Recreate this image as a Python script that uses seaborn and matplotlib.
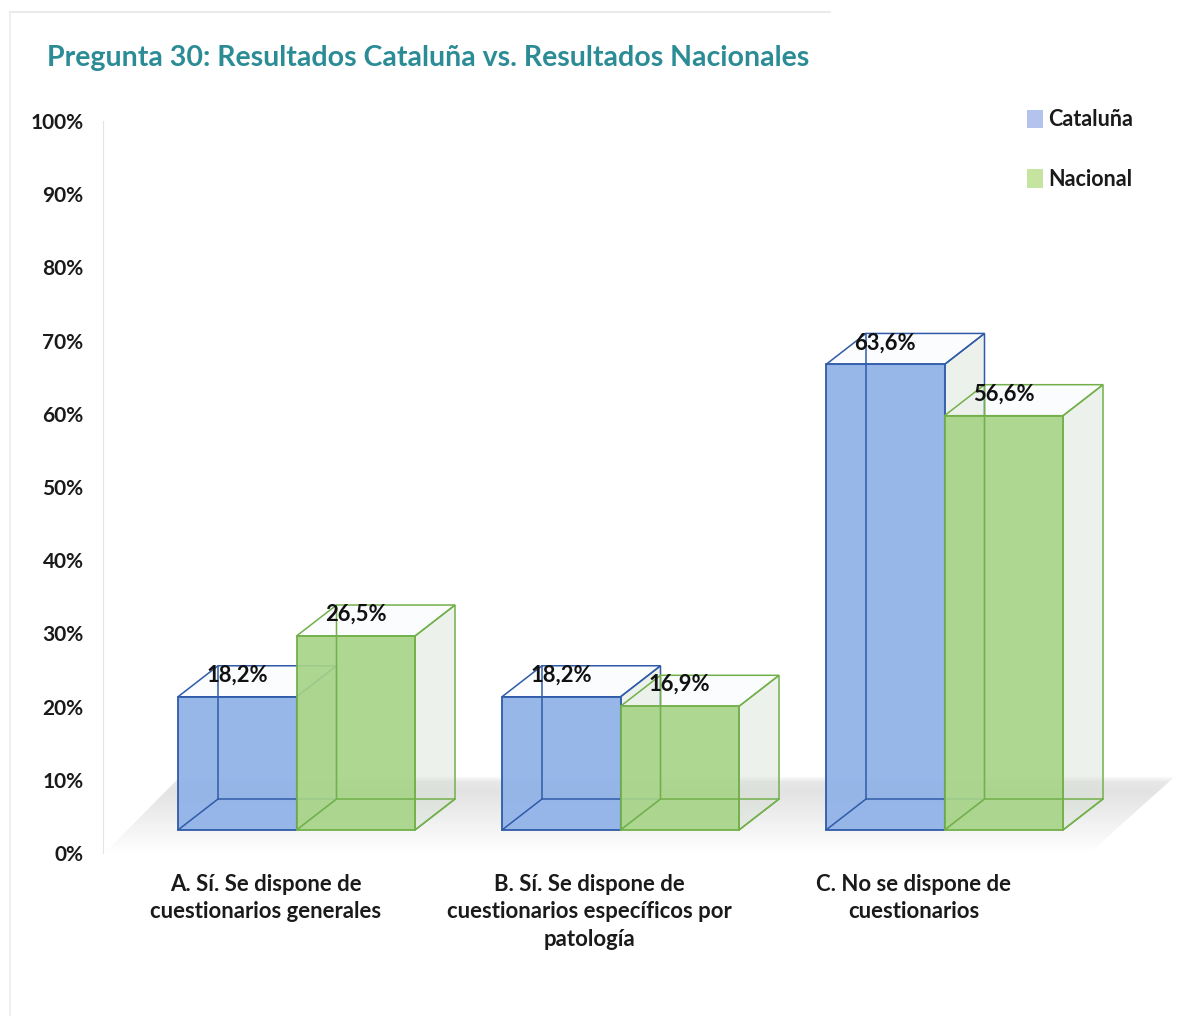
import pandas as pd
import numpy as np
import matplotlib
matplotlib.use("Agg")
import matplotlib.pyplot as plt
import seaborn as sns
from matplotlib.colors import to_rgba, LinearSegmentedColormap
from matplotlib.patches import Polygon

# datos
categorias = ["A. Sí. Se dispone de\ncuestionarios generales",
              "B. Sí. Se dispone de\ncuestionarios específicos por\npatología",
              "C. No se dispone de\ncuestionarios"]
cataluna = [18.2, 18.2, 63.6]
nacional = [26.5, 16.9, 56.6]
ticks = [0, 10, 20, 30, 40, 50, 60, 70, 80, 90, 100]
titulo = "Pregunta 30: Resultados Cataluña vs. Resultados Nacionales"

df = pd.DataFrame({"cat": categorias, "Cataluña": cataluna, "Nacional": nacional})
df = df.melt(id_vars="cat", var_name="serie", value_name="valor")

sns.set_style("white")
plt.rcParams["font.family"] = ["Lato", "DejaVu Sans"]
plt.rcParams["font.weight"] = "bold"

W, H = 1197, 1016
fig = plt.figure(figsize=(W / 100, H / 100), dpi=100)

# el eje va de px 103 a 1180 en x, y de 853 (0%) a 121 (100%) en y
ax = fig.add_axes([103 / W, 1 - 853 / H, (1180 - 103) / W, (853 - 121) / H])
px_cat = 324
px_val = 7.32
suelo = 23 / px_val   # la base de las barras está por encima del 0%
dx = 40 / px_cat      # profundidad 3D
dy = 31 / px_val

colores = {"Cataluña": "#8FB1E8", "Nacional": "#A7D488"}
bordes = {"Cataluña": "#2F5BA8", "Nacional": "#72B04A"}

sns.barplot(data=df, x="cat", y="valor", hue="serie", hue_order=["Cataluña", "Nacional"],
            palette=colores, width=0.7315, gap=0, saturation=1, ax=ax, legend=True)

ax.set_xlim((103 - 296.5) / px_cat, (1180 - 296.5) / px_cat)
ax.set_ylim(-suelo, 100 - suelo)

# suelo gris con degradado, borde de atrás difuminado
cmap = LinearSegmentedColormap.from_list("suelo", ["#ffffff", "#f1f1f1", "#e3e3e3"])
suelo_x = [-0.59, -0.36, 2.71, 2.45]
suelo_y = [-suelo + 0.1, 10.4 - suelo, 10.4 - suelo, -suelo + 0.1]
grad = np.interp(np.linspace(0, 1, 60), [0, 0.07, 0.2, 1], [0.1, 0.85, 1, 0]).reshape(-1, 1)
img = ax.imshow(grad, cmap=cmap, aspect="auto", zorder=0.5, vmin=0, vmax=1,
                extent=(ax.get_xlim()[0], ax.get_xlim()[1], -suelo, 10.4 - suelo))
img.set_clip_path(Polygon(list(zip(suelo_x, suelo_y)), transform=ax.transData))
ax.set_xlim((103 - 296.5) / px_cat, (1180 - 296.5) / px_cat)
ax.set_ylim(-suelo, 100 - suelo)

# caja 3D detrás de cada barra
for n, (serie, cont) in enumerate(zip(["Cataluña", "Nacional"], ax.containers)):
    z = 2 + n * 3
    borde = bordes[serie]
    for b in cont:
        x0, w, h = b.get_x(), b.get_width(), b.get_height()
        b.set_facecolor(to_rgba(colores[serie], 0.92))
        b.set_edgecolor(borde)
        b.set_linewidth(1.3)
        b.set_zorder(z + 1)
        # cara lateral
        ax.add_patch(Polygon([(x0 + w, 0), (x0 + w + dx, dy), (x0 + w + dx, h + dy), (x0 + w, h)],
                             facecolor=to_rgba("#D3DCCF", 0.4), edgecolor=borde, lw=1.1, zorder=z))
        # cara superior
        ax.add_patch(Polygon([(x0, h), (x0 + dx, h + dy), (x0 + w + dx, h + dy), (x0 + w, h)],
                             facecolor=to_rgba("#EEF2F5", 0.2), edgecolor=borde, lw=1.1, zorder=z))
        # aristas de atrás
        ax.plot([x0, x0 + dx, x0 + dx], [0, dy, h + dy], color=borde, lw=1.1, zorder=z + 2)
        ax.plot([x0 + dx, x0 + w + dx], [dy, dy], color=borde, lw=1.1, zorder=z + 2)
        ax.plot([x0 + w, x0 + w + dx], [0, dy], color=borde, lw=1.1, zorder=z + 2)
    etiquetas = [f"{b.get_height():.1f}%".replace(".", ",") for b in cont]
    textos = ax.bar_label(cont, labels=etiquetas, padding=8, fontsize=15.8, color="#111111", fontweight="bold")
    for t in textos:
        t.set_zorder(20)

# ejes
ax.set_yticks([t - suelo for t in ticks])
ax.set_yticklabels([f"{t}%" for t in ticks], fontsize=15, color="#1a1a1a", fontweight="bold")
ax.set_xticks([i - 31 / px_cat for i in range(3)])
ax.set_xticklabels(categorias, fontsize=15.9, color="#1a1a1a", fontweight="bold", linespacing=1.38)
ax.tick_params(axis="both", length=0)
ax.tick_params(axis="y", pad=14)
ax.tick_params(axis="x", pad=15)
ax.set_xlabel("")
ax.set_ylabel("")
sns.despine(ax=ax, top=True, right=True, bottom=True)
ax.spines["left"].set_color("#E4E4E4")
ax.patch.set_alpha(0)

# leyenda
handles, labels = ax.get_legend_handles_labels()
leg = ax.legend(handles, labels, loc="upper left", bbox_to_anchor=(0.858, 1.016), frameon=False,
                fontsize=15.5, labelspacing=1.8, handlelength=0.72, handleheight=0.95,
                handletextpad=0.25, borderpad=0, borderaxespad=0)
for txt in leg.get_texts():
    txt.set_color("#1a1a1a")
for h, s in zip(leg.get_patches(), labels):
    h.set_facecolor("#B4C3EE" if s == "Cataluña" else "#C4E4A0")
    h.set_edgecolor("none")

fig.text(47 / W, 1 - 58 / H, titulo, fontsize=20.5, color="#2C8C96", fontweight="bold", va="center")

# marco muy suave del gráfico
fig.add_artist(plt.Line2D([10 / W, 10 / W], [0, 1 - 12 / H], color="#F0F0F0", lw=1.5))
fig.add_artist(plt.Line2D([10 / W, 830 / W], [1 - 12 / H, 1 - 12 / H], color="#EBEBEB", lw=1.5))

fig.savefig("out.png", dpi=100)
